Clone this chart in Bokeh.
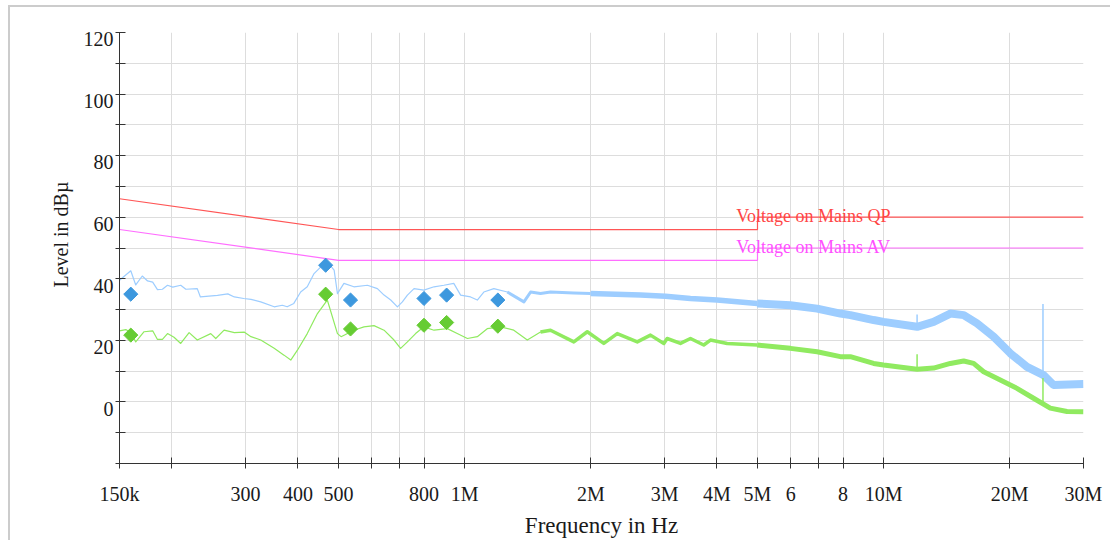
import numpy as np
from bokeh.plotting import figure
from bokeh.models import (FixedTicker, CustomJSTickFormatter, Label, Range1d,
                          LinearAxis, Title)
from bokeh.embed import file_html
from bokeh.resources import INLINE

# ---------------- data ----------------
x_tick_freq_hz = [150e3, 200e3, 300e3, 400e3, 500e3, 600e3, 700e3, 800e3, 1e6,
                  2e6, 3e6, 4e6, 5e6, 6e6, 7e6, 8e6, 10e6, 20e6, 30e6]
x_tick_labels = ["150k", "", "300", "400", "500", "", "", "800", "1M",
                 "2M", "3M", "4M", "5M", "6", "", "8", "10M", "20M", "30M"]
y_ticks = [-20, -10, 0, 10, 20, 30, 40, 50, 60, 70, 80, 90, 100, 110, 120]
y_label_values = [0, 20, 40, 60, 80, 100, 120]

# limit lines (MHz, dBuV)
qp_freq_mhz = [0.15, 0.5, 5.0, 5.0, 30.0]
qp_level = [66, 56, 56, 60, 60]
av_freq_mhz = [0.15, 0.5, 5.0, 5.0, 30.0]
av_level = [56, 46, 46, 50, 50]

# peak scan trace (blue)
blue_freq_mhz = [0.150, 0.1596, 0.164, 0.170, 0.175, 0.180, 0.1848, 0.1899, 0.1953, 0.201,
                 0.210, 0.216, 0.230, 0.234, 0.257, 0.272, 0.282, 0.297, 0.309, 0.326,
                 0.351, 0.367, 0.377, 0.391, 0.406, 0.421, 0.437, 0.453, 0.470, 0.488,
                 0.497, 0.515, 0.544, 0.586, 0.619, 0.642, 0.666, 0.691, 0.710, 0.730,
                 0.757, 0.799, 0.845, 0.892, 0.942, 0.978, 1.033, 1.072, 1.111, 1.174,
                 1.264, 1.385, 1.437, 1.517, 1.603, 1.822, 1.998, 2.629, 3.015, 3.459,
                 4.006, 4.990, 5.991, 6.939, 7.886, 8.33, 9.467, 10.0, 12.02, 13.16,
                 14.43, 15.53, 16.71, 18.30, 20.06, 21.99, 24.09, 25.45, 30.0]
blue_level = [39.5, 42.6, 38.0, 40.9, 39.3, 38.9, 36.5, 36.6, 37.9, 37.3,
              37.9, 36.6, 36.8, 34.1, 34.6, 35.1, 34.1, 33.6, 33.3, 32.5,
              30.9, 31.4, 30.9, 32.0, 35.7, 37.4, 41.7, 43.8, 45.5, 42.8,
              35.2, 38.5, 37.4, 37.9, 36.8, 34.7, 33.1, 30.9, 32.5, 34.7,
              36.8, 36.3, 37.4, 37.9, 38.5, 34.7, 34.1, 33.1, 35.7, 36.8,
              35.7, 32.5, 35.7, 35.2, 35.7, 35.4, 35.2, 34.7, 34.3, 33.6,
              33.1, 32.0, 31.4, 30.3, 28.7, 28.2, 26.6, 26.0, 24.4, 26.0,
              28.7, 28.2, 25.5, 21.2, 15.8, 11.4, 8.7, 5.5, 5.8]

# average scan trace (green)
green_freq_mhz = [0.150, 0.1553, 0.1596, 0.164, 0.1717, 0.180, 0.1848, 0.1899, 0.1953, 0.2024,
                  0.210, 0.2199, 0.230, 0.2477, 0.2546, 0.2665, 0.282, 0.2975, 0.309, 0.326,
                  0.351, 0.3705, 0.3845, 0.3988, 0.421, 0.4452, 0.470, 0.497, 0.507, 0.544,
                  0.5748, 0.6075, 0.642, 0.6782, 0.7032, 0.730, 0.7636, 0.799, 0.845, 0.909,
                  0.960, 1.015, 1.072, 1.132, 1.218, 1.310, 1.411, 1.517, 1.603, 1.822,
                  1.962, 2.148, 2.313, 2.582, 2.777, 2.988, 3.043, 3.274, 3.459, 3.721,
                  3.861, 4.232, 4.990, 5.991, 6.939, 7.886, 8.33, 9.467, 10.0, 12.02,
                  13.16, 14.43, 15.53, 16.40, 17.33, 18.99, 20.81, 22.80, 24.99, 27.40, 30.0]
green_level = [23.1, 23.5, 22.5, 19.5, 22.8, 23.1, 20.3, 20.3, 22.2, 21.0,
               19.0, 22.5, 20.1, 22.2, 20.6, 23.3, 22.5, 22.7, 21.2, 20.1,
               17.4, 15.2, 13.6, 16.8, 22.2, 28.7, 33.1, 22.2, 21.2, 23.3,
               24.4, 24.8, 23.3, 20.1, 17.4, 19.5, 22.2, 24.4, 23.3, 23.8,
               22.2, 20.6, 21.2, 23.8, 24.4, 23.3, 20.1, 22.7, 23.3, 19.5,
               22.8, 19.0, 22.2, 19.5, 21.7, 19.0, 20.6, 19.0, 20.6, 18.5,
               20.1, 19.0, 18.5, 17.4, 16.3, 14.7, 14.7, 12.5, 12.0, 10.6,
               11.0, 12.5, 13.3, 12.5, 9.8, 7.1, 4.4, 1.2, -2.0, -3.1, -3.2]

# narrow spikes (MHz, base, top)
spike_freq_mhz = [12.02, 24.01]
blue_spike_base = [24.5, 8.7]
blue_spike_top = [28.4, 31.8]
green_spike_base = [10.6, -0.5]
green_spike_top = [15.5, 7.8]

# final measurement markers
marker_freq_mhz = [0.1596, 0.4658, 0.534, 0.7996, 0.9056, 1.20]
qp_marker_level = [35.0, 44.4, 33.1, 33.6, 34.7, 33.1]
av_marker_level = [21.7, 35.0, 23.7, 24.9, 25.8, 24.6]

# ---------------- styles ----------------
SERIF = "Liberation Serif"
C_QP = "#ff5555"
C_AV = "#ff6eff"
C_BLUE = "#9dcdff"
C_GREEN = "#90ea60"
C_BLUE_M = "#3d98de"
C_GREEN_M = "#66cc33"
GRID = "#dddddd"
TXT = "#1a1a1a"

p = figure(width=1110, height=540, x_axis_type="log",
           x_range=(150e3, 30e6), y_range=(-20, 120),
           output_backend="svg", toolbar_location=None,
           min_border_left=119, min_border_right=27,
           min_border_top=32, min_border_bottom=76)
p.outline_line_color = None
p.border_fill_color = None
p.styles = {
    "background": "linear-gradient(#cccccc, #cccccc) 8px 5px / 1110px 2px no-repeat, "
                  "linear-gradient(#cccccc, #cccccc) 8px 5px / 2px 540px no-repeat, #ffffff"
}

# x axis
xa = p.xaxis[0]
xt = FixedTicker(ticks=x_tick_freq_hz, minor_ticks=[])
xa.ticker = xt
xa.formatter = CustomJSTickFormatter(
    args=dict(vals=x_tick_freq_hz, labs=x_tick_labels),
    code="""
for (let i = 0; i < vals.length; i++) {
  if (Math.abs(vals[i] - tick) < 1e-6 * vals[i]) return labs[i];
}
return "";
""")
xa.major_tick_in = 6
xa.major_tick_out = 5
xa.minor_tick_in = 0
xa.minor_tick_out = 0
xa.axis_line_color = "#333333"
xa.major_tick_line_color = "#333333"
xa.major_label_text_font = SERIF
xa.major_label_text_font_size = "20px"
xa.major_label_text_color = TXT
xa.major_label_standoff = 14
xa.axis_label = "Frequency in Hz"
xa.axis_label_text_font = SERIF
xa.axis_label_text_font_size = "23px"
xa.axis_label_text_font_style = "normal"
xa.axis_label_text_color = TXT
xa.axis_label_standoff = 5

# y axis: ticks only (labels drawn by a second axis, shifted so label tops sit on ticks)
ya = p.yaxis[0]
yt = FixedTicker(ticks=y_ticks, minor_ticks=[])
ya.ticker = yt
ya.formatter = CustomJSTickFormatter(code="return '';")
ya.major_tick_in = 6
ya.major_tick_out = 4
ya.minor_tick_in = 0
ya.minor_tick_out = 0
ya.axis_line_color = "#333333"
ya.major_tick_line_color = "#333333"
ya.major_label_standoff = 0

shift = 2.2
p.extra_y_ranges = {"lab": Range1d(-20 + shift, 120 + shift)}
lab_axis = LinearAxis(y_range_name="lab", ticker=FixedTicker(ticks=y_label_values, minor_ticks=[]),
                      axis_line_color=None, major_tick_in=0, major_tick_out=0,
                      minor_tick_in=0, minor_tick_out=0, major_label_standoff=2,
                      major_label_text_font=SERIF, major_label_text_font_size="20px",
                      major_label_text_color=TXT)
p.add_layout(lab_axis, "left")

ytitle = Title(text="Level in dBµ", align="left", offset=176, standoff=18,
               text_font=SERIF, text_font_size="20px", text_font_style="normal",
               text_color=TXT)
p.add_layout(ytitle, "left")

p.xgrid.ticker = xt
p.ygrid.ticker = yt
p.xgrid.grid_line_color = GRID
p.ygrid.grid_line_color = GRID
p.xgrid.grid_line_width = 1
p.ygrid.grid_line_width = 1

# limit lines
p.line(np.array(qp_freq_mhz) * 1e6, qp_level, line_color=C_QP, line_width=1.2)
p.line(np.array(av_freq_mhz) * 1e6, av_level, line_color=C_AV, line_width=1.2)
p.add_layout(Label(x=4.45e6, y=60, y_offset=1, text="Voltage on Mains QP",
                   text_align="left", text_baseline="alphabetic",
                   text_font=SERIF, text_font_size="18px", text_color="#ff4545"))
p.add_layout(Label(x=4.45e6, y=50, y_offset=1, text="Voltage on Mains AV",
                   text_align="left", text_baseline="alphabetic",
                   text_font=SERIF, text_font_size="18px", text_color="#ff50ff"))

# traces (line width grows where the measured trace becomes a dense noise band)
bfm = np.array(blue_freq_mhz)
blv = np.array(blue_level)
for lo, hi, w in [(0.0, 1.437, 1.2), (1.264, 2.0, 3), (1.998, 4.99, 5.5), (4.99, 31.0, 8)]:
    m = (bfm >= lo) & (bfm <= hi)
    p.line(bfm[m] * 1e6, blv[m], line_color=C_BLUE, line_width=w, line_join="round")
gfm = np.array(green_freq_mhz)
glv = np.array(green_level)
for lo, hi, w in [(0.0, 1.603, 1.2), (1.517, 4.99, 3.5), (4.99, 31.0, 5)]:
    m = (gfm >= lo) & (gfm <= hi)
    p.line(gfm[m] * 1e6, glv[m], line_color=C_GREEN, line_width=w, line_join="round")

sf = np.array(spike_freq_mhz) * 1e6
p.segment(sf, blue_spike_base, sf, blue_spike_top, line_color=C_BLUE, line_width=1.5)
p.segment(sf, green_spike_base, sf, green_spike_top, line_color=C_GREEN, line_width=1.5)

# markers
mf = np.array(marker_freq_mhz) * 1e6
p.scatter(mf, qp_marker_level, marker="square", size=10, angle=np.pi / 4,
          fill_color=C_BLUE_M, line_color=C_BLUE_M)
p.scatter(mf, av_marker_level, marker="square", size=10, angle=np.pi / 4,
          fill_color=C_GREEN_M, line_color=C_GREEN_M)

open("out.html", "w").write(file_html(p, INLINE))
